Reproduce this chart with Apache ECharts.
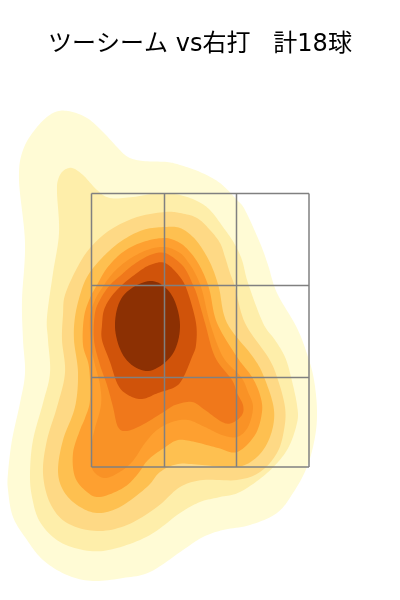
<!DOCTYPE html>
<html><head><meta charset="utf-8">
<style>html,body{margin:0;padding:0;background:#fff}#c{width:400px;height:600px}</style>
<script src="https://cdn.jsdelivr.net/npm/echarts@6/dist/echarts.min.js"></script>
</head><body><div id="c"></div>
<script>
const titleText = 'ツーシーム vs右打   計18球';
// Density contours: [horizontal location, height downward]
const contour1 = [[68,111],[87,118],[103,132],[117,147],[128,157],[143,161],[167,162],[180,165],[200,172],[220,183],[237,200],[245,210],[260,243],[268,265],[277,293],[297,328],[308,357],[314,380],[317,410],[315,437],[307,467],[293,493],[277,513],[250,525],[223,530],[203,537],[183,550],[150,572],[123,578],[93,581],[67,575],[43,560],[27,540],[13,517],[8,490],[8,473],[12,440],[20,403],[25,373],[23,340],[22,300],[25,243],[19,180],[23,150],[37,127],[53,113]];
const contour2 = [[72,168],[83,175],[97,190],[110,198],[133,197],[160,193],[180,195],[197,201],[210,210],[223,227],[234,243],[242,260],[248,283],[263,323],[275,340],[285,357],[291,377],[297,405],[297,423],[287,450],[267,473],[240,492],[220,497],[200,502],[180,513],[150,535],[117,548],[90,551],[60,542],[40,522],[32,497],[30,473],[33,440],[43,403],[50,373],[48,340],[47,317],[53,273],[59,233],[57,193],[58,180],[63,171]];
const contour3 = [[165,212],[180,213],[197,218],[210,230],[220,243],[225,257],[230,273],[235,287],[245,323],[268,357],[277,377],[285,407],[284,430],[277,453],[260,472],[237,480],[203,480],[180,487],[157,507],[127,525],[97,531],[67,523],[50,503],[43,473],[47,440],[57,407],[65,373],[62,340],[63,315],[65,295],[77,268],[90,248],[110,230],[137,217]];
const contour4 = [[165,227],[180,228],[193,237],[203,250],[212,267],[219,288],[227,323],[253,357],[264,377],[274,410],[270,437],[257,457],[237,467],[202,465],[178,464],[160,472],[147,487],[120,507],[97,513],[77,505],[63,490],[58,470],[63,440],[75,407],[78,373],[74,340],[75,317],[80,295],[87,277],[100,260],[120,242],[143,230]];
const contour5 = [[165,238],[180,243],[190,252],[198,263],[205,277],[210,292],[217,323],[237,357],[252,377],[260,395],[262,412],[255,435],[237,452],[218,448],[195,442],[178,440],[164,448],[148,460],[137,475],[123,488],[100,497],[87,492],[75,477],[73,453],[80,430],[85,418],[90,400],[89,367],[83,345],[84,317],[90,298],[97,285],[107,268],[123,252],[143,242]];
const contour6 = [[165,247],[180,253],[188,262],[195,273],[202,290],[210,323],[223,357],[241,377],[248,392],[253,407],[248,427],[237,437],[222,435],[205,427],[188,420],[172,422],[157,430],[145,443],[132,462],[118,473],[105,478],[95,473],[91,463],[92,442],[95,428],[101,405],[100,385],[95,365],[91,345],[90,317],[95,300],[102,288],[113,273],[128,260],[147,250]];
const contour7 = [[165,253],[180,263],[187,272],[193,285],[197,295],[205,323],[215,357],[232,380],[237,393],[243,405],[242,415],[232,423],[222,422],[205,410],[192,402],[175,405],[162,413],[142,425],[127,431],[118,427],[113,407],[107,385],[100,365],[94,340],[95,313],[101,298],[110,285],[120,276],[133,265],[150,255]];
const contour8 = [[165,263],[180,277],[188,293],[196,323],[196,345],[192,357],[183,378],[175,387],[158,393],[142,399],[128,395],[118,385],[110,362],[102,340],[102,325],[104,310],[111,297],[122,285],[137,273],[150,265]];
const contour9 = [[150,281],[171,294],[180,325],[172,355],[148,371],[125,358],[115,327],[123,296]];
const contours = [contour1, contour2, contour3, contour4, contour5, contour6, contour7, contour8, contour9];
const levelColors = ['#fffbd5','#feeeaa','#fed985','#fec050','#fea030','#f99226','#f0781b','#d0530a','#8c3003'];
// Strike zone grid edges
const zoneX = [91.5, 164.5, 236.5, 309];
const zoneY = [193.5, 285.5, 377.5, 467];

function closedCurve(pts){
  const out = [], n = pts.length, steps = 10;
  for(let i=0;i<n;i++){
    const a=pts[(i-1+n)%n], b=pts[i], c=pts[(i+1)%n], d=pts[(i+2)%n];
    for(let s=0;s<steps;s++){
      const t=s/steps, t2=t*t, t3=t2*t;
      out.push([0,1].map(k => 0.5*(2*b[k]+(c[k]-a[k])*t+(2*a[k]-5*b[k]+4*c[k]-d[k])*t2+(3*b[k]-a[k]-3*c[k]+d[k])*t3)));
    }
  }
  return out;
}
const chart = echarts.init(document.getElementById('c'), null, {renderer:'canvas'});
function renderContours(params, api){
  const i = api.value(0);
  return {
    type:'polygon',
    shape:{points:closedCurve(contours[i].map(p => api.coord(p)))},
    style:{fill:levelColors[i]}
  };
}
function renderZone(params, api){
  const children = [];
  const line = (a,b) => {
    const p = api.coord(a), q = api.coord(b);
    children.push({type:'line',shape:{x1:p[0],y1:p[1],x2:q[0],y2:q[1]},style:{stroke:'#808080',lineWidth:1.5}});
  };
  zoneX.forEach(x => line([x,zoneY[0]],[x,zoneY[3]]));
  zoneY.forEach(y => line([zoneX[0],y],[zoneX[3],y]));
  return {type:'group',children};
}
chart.setOption({
  animation:false,
  backgroundColor:'#fff',
  title:{text:titleText,left:'center',top:28,textStyle:{fontFamily:'"DejaVu Sans","Noto Sans CJK JP"',fontSize:24,fontWeight:'normal',color:'#000'}},
  grid:{left:0,right:0,top:0,bottom:0},
  xAxis:{type:'value',min:0,max:400,show:false},
  yAxis:{type:'value',min:0,max:600,inverse:true,show:false},
  series:[
    {type:'custom',coordinateSystem:'cartesian2d',silent:true,clip:false,data:contours.map((c,i)=>[i]),encode:{x:0},renderItem:renderContours},
    {type:'custom',coordinateSystem:'cartesian2d',silent:true,clip:false,data:[[0]],encode:{x:0},renderItem:renderZone}
  ]
});
</script></body></html>
